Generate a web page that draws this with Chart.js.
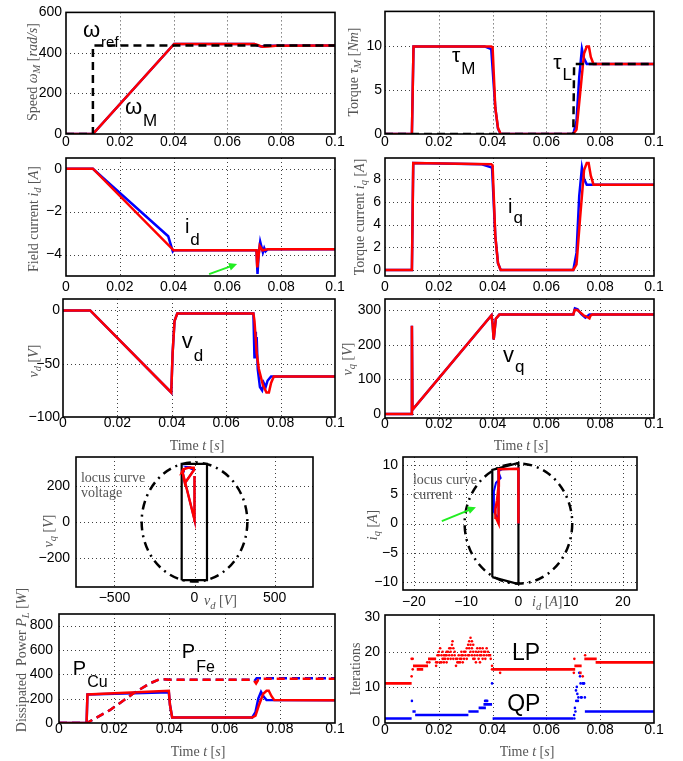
<!DOCTYPE html>
<html lang="en">
<head>
<meta charset="UTF-8">
<title>Drive simulation panels</title>
<script src="https://cdn.jsdelivr.net/npm/chart.js"></script>
<style>
  body { margin: 0; background: #fff; }
  #wrap { position: relative; width: 683px; height: 761px; }
  #wrap canvas { position: absolute; left: 0; top: 0; }
</style>
</head>
<body>
<div id="wrap"></div>
<script>
// ---- time axis ticks (shared by the time plots) ----
const tTicks = [0, 0.02, 0.04, 0.06, 0.08, 0.1];
const tTickLabels = ['0', '0.02', '0.04', '0.06', '0.08', '0.1'];

// ---- speed ----
const wRefT = [0, 0.01, 0.01, 0.1];
const wRef = [0, 0, 437, 437];
const wRedT = [0, 0.01, 0.0402, 0.0700, 0.0715, 0.0730, 0.0750, 0.0780, 0.1];
const wRed = [0, 0, 444, 444, 438, 430, 432, 436, 437];
const wBlueT = [0, 0.01, 0.0402, 0.0700, 0.0712, 0.0725, 0.0745, 0.1];
const wBlue = [0, 0, 444, 444, 436, 432, 435, 437];

// ---- torque ----
const tauLT = [0, 0.0700, 0.0703, 0.1];
const tauL = [0, 0, 8, 8];
const tauRedT = [0, 0.0100, 0.0106, 0.0395, 0.0400, 0.0410, 0.0420, 0.0430, 0.0700, 0.0712, 0.0725, 0.0740, 0.0750, 0.0758, 0.0765, 0.0775, 0.1];
const tauRed = [0, 0, 10, 10, 9.9, 3, 0.7, 0, 0, 0.5, 4.5, 9.2, 10, 10, 8.8, 8, 8];
const tauBlueT = [0, 0.0100, 0.0106, 0.0370, 0.0395, 0.0410, 0.0420, 0.0430, 0.0700, 0.0712, 0.0722, 0.0732, 0.0740, 0.0750, 0.1];
const tauBlue = [0, 0, 10, 10, 9.7, 3, 0.6, 0, 0, 1.5, 6.5, 9.7, 8.6, 8, 8];

// ---- field current i_d ----
const idRedT = [0, 0.0100, 0.0400, 0.0708, 0.0711, 0.0714, 0.0720, 0.0730, 0.0750, 0.1];
const idRed = [0, 0, -3.8, -3.8, -4.6, -4.3, -3.6, -3.8, -3.75, -3.75];
const idBlueT = [0, 0.0100, 0.0380, 0.0397, 0.0400, 0.0708, 0.0712, 0.0716, 0.0722, 0.0726, 0.0732, 0.0737, 0.0742, 0.0750, 0.1];
const idBlue = [0, 0, -3.15, -3.85, -3.8, -3.8, -4.9, -4.0, -3.4, -3.6, -3.9, -3.7, -3.85, -3.75, -3.75];

// ---- torque current i_q ----
const iqRedT = [0, 0.0100, 0.0105, 0.0395, 0.0400, 0.0410, 0.0420, 0.0430, 0.0700, 0.0712, 0.0725, 0.0740, 0.0750, 0.0757, 0.0765, 0.0775, 0.1];
const iqRed = [0, 0, 9.4, 9.3, 9.2, 3, 0.6, 0, 0, 0.5, 4.5, 8.8, 9.4, 9.4, 8.3, 7.5, 7.5];
const iqBlueT = [0, 0.0100, 0.0105, 0.0360, 0.0398, 0.0410, 0.0420, 0.0430, 0.0700, 0.0712, 0.0722, 0.0732, 0.0740, 0.0750, 0.1];
const iqBlue = [0, 0, 9.4, 9.3, 9.0, 3, 0.6, 0, 0, 1.5, 6.5, 9.0, 8.0, 7.5, 7.5];

// ---- voltage v_d ----
const vdRedT = [0, 0.0100, 0.0398, 0.0403, 0.0410, 0.0420, 0.0700, 0.0704, 0.0708, 0.0712, 0.0720, 0.0735, 0.0748, 0.0757, 0.0765, 0.0775, 0.1];
const vdRed = [0, 0, -77, -40, -10, -3, -3, -10, -25, -40, -55, -70, -77, -77, -68, -62, -62];
const vdBlueT = [0, 0.0100, 0.0398, 0.0403, 0.0410, 0.0420, 0.0700, 0.0704, 0.0706, 0.0709, 0.0712, 0.0716, 0.0724, 0.0732, 0.0738, 0.0745, 0.0752, 0.0765, 0.1];
const vdBlue = [0, 0, -77, -40, -10, -3, -3, -45, -20, -45, -25, -55, -72, -75, -68, -72, -66, -62, -62];

// ---- voltage v_q ----
const vqRedT = [0, 0.0099, 0.0100, 0.0102, 0.0396, 0.0400, 0.0404, 0.0412, 0.0425, 0.0700, 0.0705, 0.0715, 0.0728, 0.0740, 0.0752, 0.0760, 0.0764, 0.0770, 0.1];
const vqRed = [0, 0, 255, 12, 285, 260, 215, 275, 287, 287, 300, 300, 292, 284, 280, 276, 284, 287, 287];
const vqBlueT = [0, 0.0099, 0.0100, 0.0102, 0.0396, 0.0400, 0.0404, 0.0412, 0.0425, 0.0700, 0.0706, 0.0716, 0.0730, 0.0745, 0.0760, 0.1];
const vqBlue = [0, 0, 255, 12, 285, 260, 215, 275, 287, 287, 305, 302, 288, 278, 287, 287];

// ---- voltage locus ----
const vLocTicks = [-500, 0, 500];
const vLocTickLabels = ['\u2212500', '0', '500'];
const vqLocTicks = [-200, 0, 200];
const vqLocTickLabels = ['\u2212200', '0', '200'];
const vLocRedD = [0, 0, 0, -77, -60, -10, -3, -5, -40, -70, -77, -68, -62];
const vLocRedQ = [0, 255, 12, 285, 215, 280, 287, 300, 300, 292, 278, 284, 287];
const vLocBlueD = [0, 0, 0, -77, -60, -10, -3, -45, -20, -45, -72, -75, -68, -66, -62];
const vLocBlueQ = [0, 255, 12, 285, 215, 280, 287, 305, 303, 302, 290, 285, 280, 285, 287];
const vRectD = [-80, -80, 78, 78, -80];
const vRectQ = [-322, 322, 322, -322, -322];
const vLimitRadius = 330;

// ---- current locus ----
const iLocTicks = [-20, -10, 0, 10, 20];
const iLocTickLabels = ['\u221220', '\u221210', '0', '10', '20'];
const iqLocTicks = [-10, -5, 0, 5, 10];
const iqLocTickLabels = ['\u221210', '\u22125', '0', '5', '10'];
const iLocRedD = [0, 0, -3.8, -3.8, -4.3, -4.4, -4.1, -3.8, -3.75, -3.75];
const iLocRedQ = [0, 9.4, 9.3, 0, 1.0, 2.5, 4.0, 6.5, 9.4, 7.5];
const iLocBlueD = [0, 0, -3.15, -3.85, -3.8, -4.0, -4.7, -4.7, -4.3, -3.4, -3.9, -3.7, -3.75];
const iLocBlueQ = [0, 9.4, 9.3, 9.0, 0, 1.0, 2.0, 5.5, 7.0, 7.8, 9.0, 8.5, 7.5];
const iRectD = [-5, -5, 0, 0, -5];
const iRectQ = [-9.2, 9.2, 10.4, -10.4, -9.2];
const iLimitRadius = 10.3;

// ---- dissipated power ----
const pcuRedT = [0, 0.0100, 0.0103, 0.0398, 0.0402, 0.0410, 0.0700, 0.0712, 0.0725, 0.0740, 0.0752, 0.0760, 0.0770, 0.0780, 0.1];
const pcuRed = [0, 0, 235, 264, 150, 45, 45, 60, 150, 240, 265, 265, 220, 188, 186];
const pcuBlueT = [0, 0.0100, 0.0103, 0.0370, 0.0398, 0.0402, 0.0410, 0.0700, 0.0712, 0.0722, 0.0732, 0.0742, 0.0752, 0.1];
const pcuBlue = [0, 0, 235, 250, 250, 150, 45, 45, 90, 200, 255, 215, 188, 186];
const pfeRedT = [0, 0.0101, 0.0184, 0.0269, 0.0329, 0.0365, 0.0400, 0.0700, 0.0706, 0.0714, 0.0722, 0.0735, 0.1];
const pfeRed = [0, 0, 105, 242, 325, 360, 356, 356, 350, 325, 355, 364, 364];
const pfeBlueT = [0, 0.0101, 0.0184, 0.0269, 0.0329, 0.0365, 0.0400, 0.0700, 0.0708, 0.0716, 0.1];
const pfeBlue = [0, 0, 105, 242, 325, 360, 356, 356, 345, 367, 367];

// ---- solver iterations: [t0, t1, value] runs and [t, value] dots ----
const lpRuns = [[0, 0.0099, 11], [0.0104, 0.0160, 16], [0.0118, 0.0142, 15], [0.0160, 0.0190, 18],
  [0.0383, 0.0395, 19], [0.0400, 0.0707, 15], [0.0704, 0.0731, 16], [0.0722, 0.0731, 14],
  [0.0741, 0.0787, 18], [0.0783, 0.1, 17]];
const lpDots = [[0.0099, 13], [0.0099, 18], [0.0103, 15], [0.0103, 18], [0.0157, 17], [0.0165, 17],
  [0.0190, 16], [0.0190, 17], [0.0195, 17], [0.0195, 19], [0.0200, 19], [0.0200, 20], [0.0205, 21], [0.0205, 17],
  [0.0210, 19], [0.0210, 17], [0.0214, 18], [0.0214, 20], [0.0219, 17], [0.0219, 18], [0.0219, 19], [0.0224, 18],
  [0.0224, 19], [0.0229, 17], [0.0229, 19], [0.0229, 20], [0.0234, 18], [0.0234, 20], [0.0239, 19], [0.0239, 21],
  [0.0244, 18], [0.0244, 20], [0.0244, 21], [0.0249, 19], [0.0249, 22], [0.0251, 23], [0.0254, 18], [0.0254, 21],
  [0.0259, 19], [0.0259, 20], [0.0264, 18], [0.0264, 16], [0.0269, 17], [0.0269, 18], [0.0274, 17], [0.0274, 19],
  [0.0279, 18], [0.0279, 17], [0.0284, 18], [0.0284, 19], [0.0284, 20], [0.0289, 17], [0.0289, 19], [0.0294, 18],
  [0.0294, 20], [0.0299, 19], [0.0299, 20], [0.0304, 18], [0.0304, 21], [0.0309, 19], [0.0309, 22], [0.0313, 21],
  [0.0313, 23], [0.0313, 19], [0.0318, 22], [0.0318, 24], [0.0318, 20], [0.0323, 23], [0.0323, 21], [0.0323, 19],
  [0.0328, 22], [0.0328, 20], [0.0328, 18], [0.0333, 19], [0.0333, 18], [0.0338, 20], [0.0338, 17], [0.0343, 21],
  [0.0343, 19], [0.0348, 18], [0.0348, 20], [0.0353, 17], [0.0353, 19], [0.0353, 21], [0.0358, 19], [0.0358, 20],
  [0.0363, 18], [0.0363, 21], [0.0368, 19], [0.0368, 20], [0.0373, 20], [0.0373, 18], [0.0378, 19], [0.0378, 21],
  [0.0383, 20], [0.0393, 18], [0.0398, 16], [0.0398, 15], [0.0428, 14],
  [0.0702, 14], [0.0704, 18], [0.0735, 13], [0.0744, 19]];
const qpRuns = [[0, 0.0099, 1], [0.0102, 0.0114, 3], [0.0112, 0.0310, 2], [0.0310, 0.0348, 3],
  [0.0348, 0.0375, 4], [0.0366, 0.0398, 5], [0.0400, 0.0700, 1], [0.0743, 0.1, 3]];
const qpDots = [[0.0100, 6], [0.0372, 6], [0.0376, 6], [0.0380, 6], [0.0398, 11],
  [0.0703, 2], [0.0704, 1], [0.0706, 4], [0.0708, 3], [0.0710, 9], [0.0711, 6], [0.0713, 10], [0.0715, 8],
  [0.0717, 6], [0.0719, 7], [0.0722, 14], [0.0725, 13], [0.0727, 11], [0.0729, 7], [0.0731, 7], [0.0735, 11],
  [0.0738, 11], [0.0740, 11], [0.0743, 7]];

const W = 683, H = 761;
const YW = 50, XH = 30;   // reserved room for tick labels
const SANS = '"Liberation Sans", Arial, sans-serif';
const SERIF = '"Liberation Serif", "Times New Roman", serif';
const RED = '#ff0000', BLUE = '#0000ff', GREEN = '#22ee22';

function pts(xs, ys) { return xs.map((v, i) => ({x: v, y: ys[i]})); }
function runPts(list) {
  const out = [];
  list.forEach(r => out.push({x: r[0], y: r[2]}, {x: r[1], y: r[2]}, {x: r[1], y: null}));
  return out;
}
function dotPts(list) { return list.map(d => ({x: d[0], y: d[1]})); }
function line(data, color, extra) {
  return Object.assign({data, borderColor: color, backgroundColor: color, borderWidth: 2.5,
    pointRadius: 0, showLine: true, fill: false, tension: 0, spanGaps: false}, extra || {});
}
function dots(data, color) {
  return {data, borderColor: color, backgroundColor: color, pointRadius: 1.3, borderWidth: 0, showLine: false};
}

// parts: [text, style] with 'i' italic and 's' subscript
function drawRich(ctx, parts, x, y, size, fam, color, align) {
  let w = 0;
  const items = parts.map(([t, st]) => {
    const sz = st.includes('s') ? size * 0.75 : size;
    const f = (st.includes('i') ? 'italic ' : '') + sz + 'px ' + fam;
    ctx.font = f;
    const ww = ctx.measureText(t).width;
    w += ww;
    return {t, f, ww, dy: st.includes('s') ? size * 0.3 : 0};
  });
  let cx = align === 'center' ? x - w / 2 : x;
  ctx.fillStyle = color;
  ctx.textAlign = 'left';
  items.forEach(p => { ctx.font = p.f; ctx.fillText(p.t, cx, y + p.dy); cx += p.ww; });
}

function arrow(ctx, x0, y0, x1, y1) {
  const a = Math.atan2(y1 - y0, x1 - x0), L = 9;
  ctx.strokeStyle = GREEN; ctx.fillStyle = GREEN; ctx.lineWidth = 2;
  ctx.beginPath(); ctx.moveTo(x0, y0); ctx.lineTo(x1 - L * 0.7 * Math.cos(a), y1 - L * 0.7 * Math.sin(a)); ctx.stroke();
  ctx.beginPath();
  ctx.moveTo(x1, y1);
  ctx.lineTo(x1 - L * Math.cos(a - 0.45), y1 - L * Math.sin(a - 0.45));
  ctx.lineTo(x1 - L * Math.cos(a + 0.45), y1 - L * Math.sin(a + 0.45));
  ctx.closePath(); ctx.fill();
}

function decoPlugin(p) {
  return {
    id: 'deco',
    beforeDatasetsDraw(chart) {
      const {ctx, chartArea: a, scales: {x, y}} = chart;
      ctx.save();
      ctx.strokeStyle = 'rgba(0,0,0,0.75)'; ctx.lineWidth = 1; ctx.setLineDash([1, 3]);
      ctx.beginPath();
      p.x.ticks.forEach(v => {
        const px = Math.round(x.getPixelForValue(v)) + 0.5;
        if (px > a.left + 3 && px < a.right - 3) { ctx.moveTo(px, a.top); ctx.lineTo(px, a.bottom); }
      });
      p.y.ticks.forEach(v => {
        const py = Math.round(y.getPixelForValue(v)) + 0.5;
        if (py > a.top + 3 && py < a.bottom - 3) { ctx.moveTo(a.left, py); ctx.lineTo(a.right, py); }
      });
      ctx.stroke();
      if (p.circle) {
        const cx = x.getPixelForValue(0), cy = y.getPixelForValue(0);
        const rx = Math.abs(x.getPixelForValue(p.circle) - cx), ry = Math.abs(y.getPixelForValue(p.circle) - cy);
        ctx.strokeStyle = '#000'; ctx.lineWidth = 2.5; ctx.setLineDash([9, 5, 2, 5]);
        ctx.beginPath(); ctx.ellipse(cx, cy, rx, ry, 0, 0, Math.PI * 2); ctx.stroke();
      }
      ctx.restore();
    },
    afterDraw(chart) {
      const {ctx, chartArea: a, scales: {x, y}} = chart;
      ctx.save();
      ctx.setLineDash([]);
      ctx.strokeStyle = '#000'; ctx.lineWidth = 1.6;
      ctx.strokeRect(a.left, a.top, a.right - a.left, a.bottom - a.top);
      ctx.textBaseline = 'middle';
      if (p.yTitle) {
        ctx.save();
        ctx.translate(p.yTitle.cx, p.yTitle.cy); ctx.rotate(-Math.PI / 2);
        drawRich(ctx, p.yTitle.parts, 0, 0, 14, SERIF, '#555', 'center');
        ctx.restore();
      }
      ctx.textBaseline = 'alphabetic';
      (p.xTitles || []).forEach(t => {
        drawRich(ctx, t.parts, t.px, t.py, 14, SERIF, '#555', t.align || 'center');
      });
      (p.notes || []).forEach(n => {
        const px = x.getPixelForValue(n.x), py = y.getPixelForValue(n.y);
        drawRich(ctx, n.parts, px, py, n.size || 14, SERIF, '#555', 'left');
      });
      (p.labels || []).forEach(l => {
        const px = x.getPixelForValue(l.x), py = y.getPixelForValue(l.y);
        ctx.fillStyle = '#000'; ctx.textAlign = 'left';
        ctx.font = l.size + 'px ' + SANS;
        ctx.fillText(l.main, px, py);
        if (l.sub) {
          const mw = ctx.measureText(l.main).width;
          ctx.font = l.subSize + 'px ' + SANS;
          ctx.fillText(l.sub, px + mw + 1, py + l.dy);
        }
      });
      (p.arrows || []).forEach(r => {
        arrow(ctx, x.getPixelForValue(r[0]), y.getPixelForValue(r[1]), x.getPixelForValue(r[2]), y.getPixelForValue(r[3]));
      });
      ctx.restore();
    }
  };
}

function axis(cfg, horizontal) {
  return {
    type: 'linear', min: cfg.min, max: cfg.max,
    afterFit: s => { if (horizontal) s.height = XH; else s.width = YW; },
    afterBuildTicks: s => { s.ticks = cfg.ticks.map(v => ({value: v})); },
    ticks: {
      callback: (v, i) => cfg.labels[i], autoSkip: false, maxRotation: 0, minRotation: 0,
      padding: cfg.pad, color: '#000', font: {family: SANS, size: 14}
    },
    grid: {display: false, drawTicks: false},
    border: {display: false}
  };
}

function panel(p) {
  const c = document.createElement('canvas');
  c.width = W; c.height = H;
  document.getElementById('wrap').appendChild(c);
  const [l, t, r, b] = p.box;
  new Chart(c, {
    type: 'scatter',
    data: {datasets: p.datasets},
    options: {
      responsive: false, animation: false, devicePixelRatio: 1,
      layout: {padding: {left: l - YW, top: t, right: W - r, bottom: H - b - XH}},
      plugins: {legend: {display: false}, tooltip: {enabled: false}},
      events: [],
      scales: {x: axis(p.x, true), y: axis(p.y, false)}
    },
    plugins: [decoPlugin(p)]
  });
}

const timeTitle = [['Time ', ''], ['t', 'i'], [' [', ''], ['s', 'i'], [']', '']];
const dashBlack = {borderDash: [8, 5], borderWidth: 2.5};

panel({
  box: [66, 7, 335, 134],
  x: {min: 0, max: 0.1, ticks: tTicks, labels: tTickLabels, pad: 0},
  y: {min: 0, max: 600, ticks: [0, 200, 400, 600], labels: ['0', '200', '400', '600'], pad: 4},
  datasets: [line(pts(wRefT, wRef), '#000', dashBlack), line(pts(wRedT, wRed), RED), line(pts(wBlueT, wBlue), BLUE)],
  yTitle: {cx: 33, cy: 72, parts: [['Speed ', ''], ['\u03c9', 'i'], ['M', 'si'], [' [', ''], ['rad/s', 'i'], [']', '']]},
  labels: [{x: 0.0063, y: 481, main: '\u03c9', sub: 'ref', size: 22, subSize: 15, dy: 10},
           {x: 0.0219, y: 99, main: '\u03c9', sub: 'M', size: 22, subSize: 17, dy: 12}]
});

panel({
  box: [385, 7, 654, 134],
  x: {min: 0, max: 0.1, ticks: tTicks, labels: tTickLabels, pad: 0},
  y: {min: 0, max: 14, ticks: [0, 5, 10], labels: ['0', '5', '10'], pad: 3},
  datasets: [line(pts(tauLT, tauL), '#000', dashBlack), line(pts(tauRedT, tauRed), RED), line(pts(tauBlueT, tauBlue), BLUE)],
  yTitle: {cx: 354, cy: 72, parts: [['Torque ', ''], ['\u03c4', 'i'], ['M', 'si'], [' [', ''], ['Nm', 'i'], [']', '']]},
  labels: [{x: 0.0249, y: 8.2, main: '\u03c4', sub: 'M', size: 21, subSize: 17, dy: 12},
           {x: 0.0625, y: 7.4, main: '\u03c4', sub: 'L', size: 21, subSize: 17, dy: 11}]
});

panel({
  box: [66, 158, 335, 276],
  x: {min: 0, max: 0.1, ticks: tTicks, labels: tTickLabels, pad: 3},
  y: {min: -5, max: 0.5, ticks: [-4, -2, 0], labels: ['\u22124', '\u22122', '0'], pad: 4},
  datasets: [line(pts(idRedT, idRed), RED), line(pts(idBlueT, idBlue), BLUE)],
  yTitle: {cx: 34, cy: 219, parts: [['Field current ', ''], ['i', 'i'], ['d', 'si'], [' [', ''], ['A', 'i'], [']', '']]},
  labels: [{x: 0.0442, y: -2.99, main: 'i', sub: 'd', size: 20, subSize: 17, dy: 12}],
  arrows: [[0.0532, -4.91, 0.0636, -4.44]]
});

panel({
  box: [385, 158, 654, 276],
  x: {min: 0, max: 0.1, ticks: tTicks, labels: tTickLabels, pad: 3},
  y: {min: -0.53, max: 9.85, ticks: [0, 2, 4, 6, 8], labels: ['0', '2', '4', '6', '8'], pad: 4},
  datasets: [line(pts(iqRedT, iqRed), RED), line(pts(iqBlueT, iqBlue), BLUE)],
  yTitle: {cx: 360, cy: 217, parts: [['Torque current ', ''], ['i', 'i'], ['q', 'si'], [' [', ''], ['A', 'i'], [']', '']]},
  labels: [{x: 0.0457, y: 5.03, main: 'i', sub: 'q', size: 20, subSize: 17, dy: 10}]
});

panel({
  box: [63, 299, 335, 417],
  x: {min: 0, max: 0.1, ticks: tTicks, labels: tTickLabels, pad: -2},
  y: {min: -100, max: 10.7, ticks: [-100, -50, 0], labels: ['\u2212100', '\u221250', '0'], pad: 3},
  datasets: [line(pts(vdRedT, vdRed), RED), line(pts(vdBlueT, vdBlue), BLUE)],
  yTitle: {cx: 34, cy: 361, parts: [['v', 'i'], ['d', 'si'], [' [', ''], ['V', 'i'], [']', '']]},
  xTitles: [{px: 197, py: 450, parts: timeTitle}],
  labels: [{x: 0.0437, y: -35, main: 'v', sub: 'd', size: 22, subSize: 17, dy: 13}]
});

panel({
  box: [385, 299, 654, 418],
  x: {min: 0, max: 0.1, ticks: tTicks, labels: tTickLabels, pad: -2},
  y: {min: -11.6, max: 332, ticks: [0, 100, 200, 300], labels: ['0', '100', '200', '300'], pad: 4},
  datasets: [line(pts(vqRedT, vqRed), RED), line(pts(vqBlueT, vqBlue), BLUE)],
  yTitle: {cx: 348, cy: 359, parts: [['v', 'i'], ['q', 'si'], [' [', ''], ['V', 'i'], [']', '']]},
  xTitles: [{px: 521, py: 450, parts: timeTitle}],
  labels: [{x: 0.0439, y: 151, main: 'v', sub: 'q', size: 22, subSize: 17, dy: 10}]
});

panel({
  box: [76, 457, 313, 587],
  x: {min: -740, max: 740, ticks: vLocTicks, labels: vLocTickLabels, pad: 3},
  y: {min: -360, max: 360, ticks: vqLocTicks, labels: vqLocTickLabels, pad: 6},
  datasets: [line(pts(vLocRedD, vLocRedQ), RED), line(pts(vLocBlueD, vLocBlueQ), BLUE, {borderWidth: 2}),
             line(pts(vRectD, vRectQ), '#000', {borderWidth: 2.2})],
  circle: vLimitRadius,
  yTitle: {cx: 49, cy: 531, parts: [['v', 'i'], ['q', 'si'], [' [', ''], ['V', 'i'], [']', '']]},
  xTitles: [{px: 204, py: 605, align: 'left', parts: [['v', 'i'], ['d', 'si'], [' [', ''], ['V', 'i'], [']', '']]}],
  notes: [{x: -709, y: 220, parts: [['locus curve', '']]}, {x: -709, y: 137, parts: [['voltage', '']]}]
});

panel({
  box: [403, 457, 637, 590],
  x: {min: -22.1, max: 22.7, ticks: iLocTicks, labels: iLocTickLabels, pad: 4},
  y: {min: -11.4, max: 11.4, ticks: iqLocTicks, labels: iqLocTickLabels, pad: 5},
  datasets: [line(pts(iLocRedD, iLocRedQ), RED), line(pts(iLocBlueD, iLocBlueQ), BLUE, {borderWidth: 2}),
             line(pts(iRectD, iRectQ), '#000', {borderWidth: 2.2})],
  circle: iLimitRadius,
  yTitle: {cx: 373, cy: 525, parts: [['i', 'i'], ['q', 'si'], [' [', ''], ['A', 'i'], [']', '']]},
  xTitles: [{px: 532, py: 606, align: 'left', parts: [['i', 'i'], ['d', 'si'], [' [', ''], ['A', 'i'], [']', '']]}],
  notes: [{x: -20.2, y: 6.73, parts: [['locus curve', '']]}, {x: -20.2, y: 4.16, parts: [['current', '']]}],
  arrows: [[-14.67, 0.40, -8.14, 2.80]]
});

panel({
  box: [59, 614, 335, 723],
  x: {min: 0, max: 0.1, ticks: tTicks, labels: tTickLabels, pad: -2},
  y: {min: 0, max: 895, ticks: [0, 200, 400, 600, 800], labels: ['0', '200', '400', '600', '800'], pad: 6},
  datasets: [line(pts(pfeRedT, pfeRed), RED, {borderDash: [8, 5]}), line(pts(pfeBlueT, pfeBlue), BLUE, {borderDash: [8, 5]}),
             line(pts(pcuRedT, pcuRed), RED), line(pts(pcuBlueT, pcuBlue), BLUE)],
  yTitle: {cx: 22, cy: 660, parts: [['Dissipated  Power ', ''], ['P', 'i'], ['L', 'si'], [' [', ''], ['W', 'i'], [']', '']]},
  xTitles: [{px: 198, py: 756, parts: timeTitle}],
  labels: [{x: 0.0050, y: 393, main: 'P', sub: 'Cu', size: 20, subSize: 16, dy: 12},
           {x: 0.0445, y: 533, main: 'P', sub: 'Fe', size: 20, subSize: 16, dy: 14}]
});

panel({
  box: [385, 615, 654, 723],
  x: {min: 0, max: 0.1, ticks: tTicks, labels: tTickLabels, pad: -1},
  y: {min: -0.3, max: 30.5, ticks: [0, 10, 20, 30], labels: ['0', '10', '20', '30'], pad: 5},
  datasets: [line(runPts(lpRuns), RED, {borderWidth: 2.6, borderCapStyle: 'butt'}), dots(dotPts(lpDots), RED),
             line(runPts(qpRuns), BLUE, {borderWidth: 2.6, borderCapStyle: 'butt'}), dots(dotPts(qpDots), BLUE)],
  yTitle: {cx: 356, cy: 669, parts: [['Iterations', '']]},
  xTitles: [{px: 527, py: 756, parts: timeTitle}],
  labels: [{x: 0.0472, y: 17.6, main: 'LP', size: 23}, {x: 0.0454, y: 3.0, main: 'QP', size: 23}]
});
</script>
</body>
</html>
